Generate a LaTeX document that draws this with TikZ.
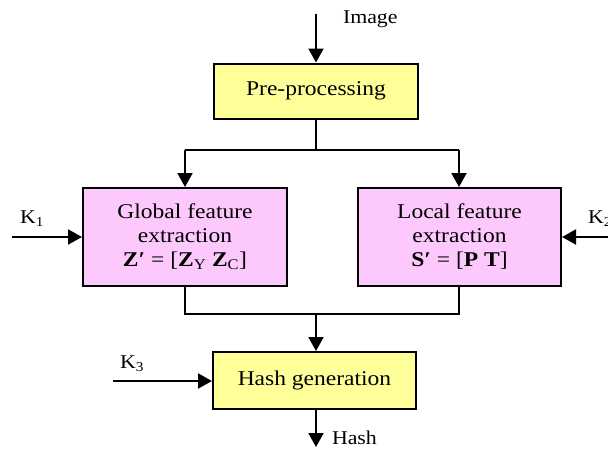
\documentclass[tikz,border=0pt]{standalone}
\usepackage{fontspec}
\setmainfont[FakeStretch=1.12]{Liberation Serif}
\usetikzlibrary{arrows.meta}
\begin{document}
\begin{tikzpicture}[x=1pt,y=-1pt,
  line width=2pt,
  arr/.style={-{Triangle[width=15pt,length=14pt]}},
  yellowbox/.style={draw, fill=boxyellow, line width=2pt, inner sep=0pt},
  pinkbox/.style={draw, fill=boxpink, line width=2pt, inner sep=0pt, align=center},
  boxtext/.style={font=\fontsize{21}{24}\selectfont},
  lbl/.style={font=\fontsize{19.5}{22}\selectfont, inner sep=0pt}]
\definecolor{boxyellow}{HTML}{FFFF99}
\definecolor{boxpink}{HTML}{FDC9FD}
\useasboundingbox (0,0) rectangle (608,448);
% boxes
\node[yellowbox, boxtext, minimum width=204pt, minimum height=55pt] (pre) at (316,91) {Pre-processing};
\node[pinkbox, boxtext, minimum width=204pt, minimum height=98pt] (glob) at (185,237) {Global feature\\extraction\\\textbf{Z′} = [\textbf{Z}\textsubscript{Y} \textbf{Z}\textsubscript{C}]};
\node[pinkbox, boxtext, minimum width=203pt, minimum height=98pt] (loc) at (459.5,237) {Local feature\\extraction\\\textbf{S′} = [\textbf{P T}]};
\node[yellowbox, boxtext, minimum width=203pt, minimum height=57pt] (hash) at (314.5,380.5) {Hash generation};
% coordinates
\coordinate (imgin) at (316,14);
\coordinate (split) at (316,150);
\coordinate (splitL) at (185,150);
\coordinate (splitR) at (459,150);
\coordinate (joinL) at (185,314);
\coordinate (joinR) at (459,314);
\coordinate (join) at (316,314);
\coordinate (k1in) at (12,237);
\coordinate (k2in) at (608,237);
\coordinate (k3in) at (113,381);
\coordinate (hashout) at (316,447);
% connectors
\draw[arr] (imgin) -- (pre.north -| imgin);
\draw (pre.south -| split) -- (split);
\draw (splitL) -- (splitR);
\draw[arr] (splitL) -- (glob.north -| splitL);
\draw[arr] (splitR) -- (loc.north -| splitR);
\draw (glob.south -| joinL) -- (joinL) -- (joinR) -- (loc.south -| joinR);
\draw[arr] (join) -- (hash.north -| join);
\draw[arr] (k1in) -- (glob.west);
\draw[arr] (k2in) -- (loc.east);
\draw[arr] (k3in) -- (hash.west |- k3in);
\draw[arr] (hash.south -| hashout) -- (hashout);
% labels
\node[lbl, anchor=west] (limg) at (342,19) {Image};
\node[lbl, anchor=west] (lk1) at (19,219) {K\textsubscript{1}};
\node[lbl, anchor=west] (lk2) at (587,219) {K\textsubscript{2}};
\node[lbl, anchor=west] (lk3) at (119,364) {K\textsubscript{3}};
\node[lbl, anchor=west] (lhash) at (331,437.5) {Hash};
\end{tikzpicture}
\end{document}
